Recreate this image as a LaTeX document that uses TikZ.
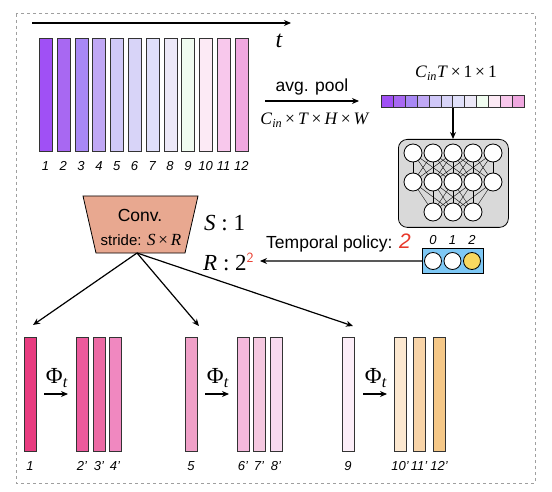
\documentclass[tikz,border=0pt]{standalone}
\usepackage{fontspec}
\setmainfont{Liberation Sans}
\newfontfamily\serif{Liberation Serif}
\usetikzlibrary{arrows.meta}
\definecolor{ta}{HTML}{A050F5}\definecolor{tb}{HTML}{A868F2}\definecolor{tc}{HTML}{A888F5}
\definecolor{td}{HTML}{C0A8F5}\definecolor{te}{HTML}{D0C8F8}\definecolor{tf}{HTML}{D8D4F8}
\definecolor{tg}{HTML}{E0E0FA}\definecolor{th}{HTML}{ECE8F8}\definecolor{ti}{HTML}{F0FCF0}
\definecolor{tj}{HTML}{FCEAF5}\definecolor{tk}{HTML}{F8C8EC}\definecolor{tl}{HTML}{F0A8E0}
\definecolor{ba}{HTML}{E83C80}\definecolor{bb}{HTML}{EC5A9C}\definecolor{bc}{HTML}{EC6AA4}
\definecolor{bd}{HTML}{F088C0}\definecolor{be}{HTML}{F0A0C8}\definecolor{bf}{HTML}{F4B8DC}
\definecolor{bg}{HTML}{F5C8E0}\definecolor{bh}{HTML}{F8DAF0}\definecolor{bi}{HTML}{FCEEF8}
\definecolor{bj}{HTML}{FCE8D0}\definecolor{bk}{HTML}{F8D4A8}\definecolor{bl}{HTML}{F5C888}
\definecolor{convc}{HTML}{E8A890}\definecolor{nnbg}{HTML}{D9D9D9}\definecolor{polc}{HTML}{7EC8F5}
\definecolor{yel}{HTML}{F8D860}\definecolor{redt}{HTML}{E8382A}\definecolor{edge}{HTML}{333333}
\tikzset{
  topbar/.style={draw=edge, line width=0.8pt, minimum width=13pt, minimum height=113pt, inner sep=0pt, anchor=north west},
  botbar/.style={draw=edge, line width=0.8pt, minimum width=12pt, minimum height=114pt, inner sep=0pt, anchor=north west},
  cell/.style={draw=edge, line width=0.6pt, minimum width=11.9pt, minimum height=12pt, inner sep=0pt, anchor=north west},
  lab/.style={font=\fontsize{13}{13}\selectfont\itshape, inner sep=0pt},
  neuron/.style={circle, draw=black, fill=white, line width=0.8pt, minimum size=18pt, inner sep=0pt},
  pneuron/.style={circle, draw=black, fill=white, line width=0.8pt, minimum size=17pt, inner sep=0pt},
  arr/.style={-{Stealth[length=7pt,width=6pt]}, line width=1.2pt},
  txt/.style={font=\fontsize{17.5}{17.5}\selectfont, inner sep=0pt},
  mtxt/.style={font=\fontsize{17.5}{17.5}\selectfont\serif, inner sep=0pt},
  bigm/.style={font=\fontsize{23}{23}\selectfont\serif, inner sep=0pt},
}
\begin{document}
\begin{tikzpicture}[x=1pt,y=-1pt]
\useasboundingbox (0,0) rectangle (552,492);
\draw[gray!75, line width=1pt, dash pattern=on 3pt off 3pt] (16,14) rectangle (535,483);
% timeline
\coordinate (tl0) at (32,23);
\coordinate (tl1) at (291,23);
\draw[arr] (tl0) -- (tl1);
\node[font=\fontsize{24}{24}\selectfont\serif\itshape, inner sep=0pt] (tt) at (279,41) {t};
% top bars
\foreach \c [count=\k] in {ta,tb,tc,td,te,tf,tg,th,ti,tj,tk,tl}{
  \node[topbar, fill=\c] (top\k) at ({39+(\k-1)*17.8},38) {};
  \node[lab] (toplab\k) at ({45.5+(\k-1)*17.8},166) {\k};
  \node[cell, fill=\c] (cell\k) at ({381+(\k-1)*11.9},95) {};
}
% avg pool
\node[txt] (avg) at (312,87) {avg. pool};
\draw[arr] (265,101) -- (359,101);
\node[mtxt] (dims) at (315,120) {\textit{C}\textsubscript{\textit{in}}\,×\,\textit{T}\,×\,\textit{H}\,×\,\textit{W}};
\node[mtxt] (vecdim) at (456,73) {\textit{C}\textsubscript{\textit{in}}\textit{T}\,×\,1\,×\,1};
% NN
\node[draw=black, fill=nnbg, line width=0.8pt, rounded corners=9pt, minimum width=110pt, minimum height=88pt, anchor=north west] (nn) at (398,139) {};
\draw[arr] (cell6.south east) -- (nn.north -| cell6.south east);
\foreach \i in {1,...,5}{
  \coordinate (r1\i) at ({393+20*\i},153);
  \coordinate (r2\i) at ({393+20*\i},182);
}
\foreach \i in {1,2,3}{\coordinate (r3\i) at ({413+20*\i},212);}
\foreach \i in {1,...,5}{\foreach \j in {1,...,5}{
  \pgfmathtruncatemacro{\d}{abs(\i-\j)}
  \ifnum\d<3 \draw[line width=0.4pt] (r1\i) -- (r2\j); \fi
}}
\foreach \i in {1,...,5}{\foreach \j in {1,2,3}{
  \pgfmathtruncatemacro{\d}{abs(\i-\j-1)}
  \ifnum\d<3 \draw[line width=0.4pt] (r2\i) -- (r3\j); \fi
}}
\foreach \i in {1,...,5}{
  \node[neuron] (n1\i) at (r1\i) {};
  \node[neuron] (n2\i) at (r2\i) {};
}
\foreach \i in {1,2,3}{\node[neuron] (n3\i) at (r3\i) {};}
% policy
\node[draw=black, fill=polc, line width=0.8pt, minimum width=61pt, minimum height=25pt, inner sep=0pt, anchor=north west] (pol) at (422,248) {};
\node[pneuron] (p0) at (433,261) {};
\node[pneuron] (p1) at (452.5,261) {};
\node[pneuron, fill=yel] (p2) at (472,261) {};
\node[lab] (pl0) at (433,240) {0};
\node[lab] (pl1) at (452.5,240) {1};
\node[lab] (pl2) at (472,240) {2};
\node[txt, anchor=west] (tp) at (266,243) {Temporal policy: {\color{redt}\fontsize{21}{21}\selectfont\itshape 2}};
\coordinate (rtip) at (260,261);
\draw[arr] (pol.west) -- (rtip);
\node[bigm, anchor=base west] (s1) at (204,230) {\textit{S} : 1};
\node[bigm, anchor=base west] (r22) at (203,270) {\textit{R} : 2\raisebox{8pt}{\color{redt}\sffamily\fontsize{14}{14}\selectfont 2}};
% conv
\filldraw[fill=convc, draw=black, line width=0.8pt] (83,196) -- (198,196) -- (185,253) -- (96,253) -- cycle;
\node[txt] (conv) at (140,215) {Conv.};
\node[font=\fontsize{15}{15}\selectfont, inner sep=0pt] (stride) at (141,240) {stride: {\serif\fontsize{17}{17}\selectfont\textit{S}\,×\,\textit{R}}};
\coordinate (convb) at (137,253);
\coordinate (ta1) at (33,325);
\coordinate (ta2) at (199,326);
\coordinate (ta3) at (353,326);
\draw[arr] (convb) -- (ta1);
\draw[arr] (convb) -- (ta2);
\draw[arr] (convb) -- (ta3);
% bottom bars
\foreach \x/\c/\l [count=\k] in {24/ba/1, 76/bb/2', 93/bc/3', 109/bd/4', 185/be/5, 237/bf/6', 253/bg/7', 270/bh/8', 342/bi/9, 394/bj/10', 413/bk/11', 433/bl/12'}{
  \node[botbar, fill=\c] (bot\k) at (\x,337) {};
  \node[lab] (botlab\k) at (\x+6,466) {\l};
}
% Phi arrows
\foreach \x [count=\k] in {44,205,363}{
  \node[bigm] (phi\k) at (\x+13,378) {Φ\textsubscript{\textit{t}}};
  \draw[arr] (\x,394) -- (\x+24,394);
}
\end{tikzpicture}
\end{document}
